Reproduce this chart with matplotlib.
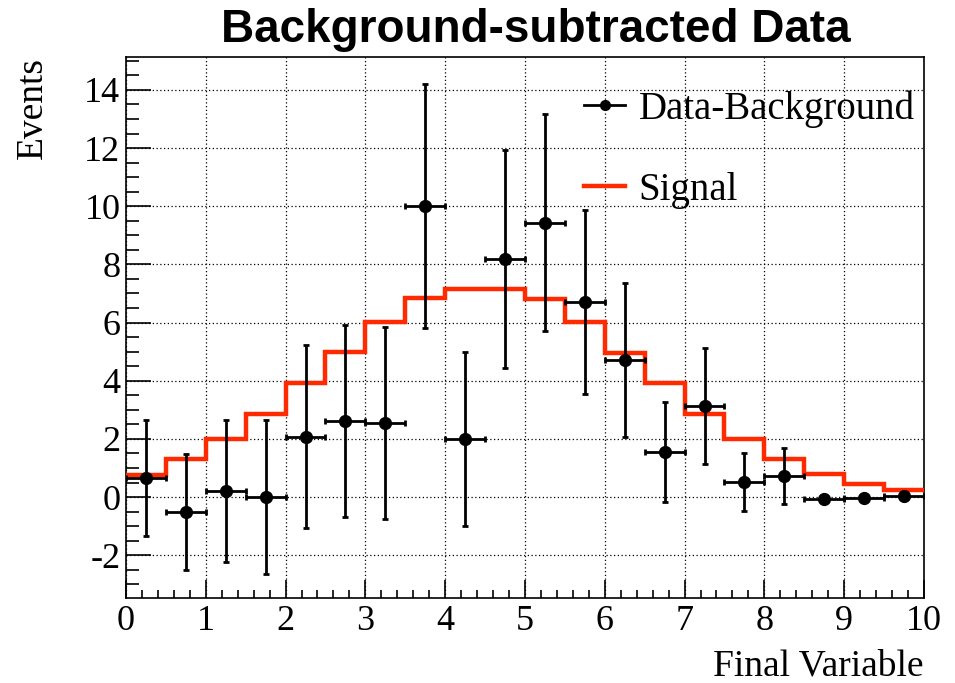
import numpy as np
import matplotlib.pyplot as plt
from matplotlib.ticker import MultipleLocator
from matplotlib.lines import Line2D

# bin centres and background-subtracted data
bin_edges = [0.0, 0.5, 1.0, 1.5, 2.0, 2.5, 3.0, 3.5, 4.0, 4.5, 5.0,
             5.5, 6.0, 6.5, 7.0, 7.5, 8.0, 8.5, 9.0, 9.5, 10.0]
data_vals = [0.65, -0.52, 0.2, 0.0, 2.07, 2.6, 2.55, 10.01, 2.0, 8.19,
             9.43, 6.71, 4.71, 1.55, 3.13, 0.52, 0.72, -0.07, -0.03, 0.03]
data_errs = [2.0, 2.0, 2.45, 2.65, 3.15, 3.3, 3.3, 4.2, 3.0, 3.75,
             3.73, 3.15, 2.65, 1.73, 2.0, 1.0, 0.95, 0.08, 0.08, 0.08]
signal_vals = [0.76, 1.31, 1.99, 2.85, 3.92, 5.0, 6.02, 6.85, 7.16, 7.16,
               6.81, 6.02, 4.97, 3.92, 2.85, 1.99, 1.31, 0.79, 0.45, 0.24]

edges = np.array(bin_edges)
centres = 0.5 * (edges[:-1] + edges[1:])
half_w = 0.5 * np.diff(edges)

plt.rcParams['font.family'] = ['Liberation Serif', 'DejaVu Serif']
plt.rcParams['axes.unicode_minus'] = False

fig = plt.figure(figsize=(9.55, 6.83), dpi=100)
ax = fig.add_axes([0.1319, 0.1245, 0.8356, 0.792])

# signal histogram
ax.stairs(signal_vals, edges, color='#ff2a00', lw=3.2, zorder=3, baseline=None)

# data points with errors
ax.errorbar(centres, data_vals, yerr=data_errs, xerr=half_w, fmt='o', color='black',
            ms=8.5, elinewidth=2, capsize=2.5, capthick=2, zorder=4)

ax.set_xlim(0, 10)
ax.set_ylim(-3.47, 15.13)
ax.xaxis.set_major_locator(MultipleLocator(1))
ax.xaxis.set_minor_locator(MultipleLocator(0.2))
ax.yaxis.set_major_locator(MultipleLocator(2))
ax.yaxis.set_minor_locator(MultipleLocator(0.5))
ax.tick_params(which='both', direction='in', top=False, right=False, labelsize=26, width=1.2)
ax.tick_params(axis='y', which='major', length=18, pad=4)
ax.tick_params(axis='y', which='minor', length=9)
ax.tick_params(axis='x', which='major', length=13, pad=5)
ax.tick_params(axis='x', which='minor', length=6)
ax.grid(True, which='major', ls=(0, (1, 2)), color='black', lw=0.9)
for s in ax.spines.values():
    s.set_linewidth(1.2)

ax.set_ylabel('Events', fontsize=27, loc='top')
ax.yaxis.set_label_coords(-0.095, 1.0)
ax.set_xlabel('Final Variable', fontsize=27, loc='right')
ax.xaxis.set_label_coords(1.0, -0.095)

handles = [Line2D([], [], color='black', lw=2, marker='o', ms=7),
           Line2D([], [], color='#ff2a00', lw=3.2)]
ax.legend(handles, ['Data-Background', 'Signal'], loc='upper right',
          bbox_to_anchor=(1.008, 0.967), frameon=False, fontsize=28, handlelength=1.05,
          handletextpad=0.35, labelspacing=1.13, borderaxespad=0)

fig.text(0.561, 0.956, 'Background-subtracted Data', ha='center', va='center',
         fontsize=33, fontweight='bold', family=['Liberation Sans'])

fig.savefig('out.png', dpi=100)
